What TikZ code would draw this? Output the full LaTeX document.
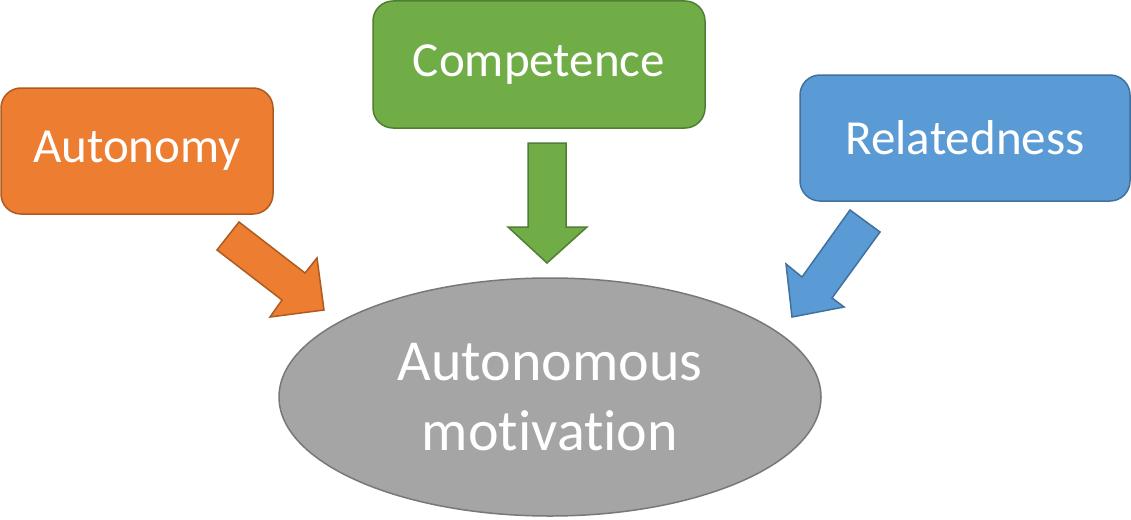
\documentclass[tikz,border=0pt]{standalone}
\usepackage{fontspec}
\setmainfont{Carlito}[Ligatures=NoCommon]
\usetikzlibrary{shapes.geometric}
\definecolor{oFill}{HTML}{ED7D31}\definecolor{oLine}{HTML}{AE5A21}
\definecolor{gFill}{HTML}{70AD47}\definecolor{gLine}{HTML}{507E32}
\definecolor{bFill}{HTML}{5B9BD5}\definecolor{bLine}{HTML}{41719C}
\definecolor{kFill}{HTML}{A5A5A5}\definecolor{kLine}{HTML}{787878}
\begin{document}
\begin{tikzpicture}[x=1pt,y=-1pt,
  box/.style={rectangle,rounded corners=20pt,line width=1.5pt,text=white,inner sep=0pt,
    font=\fontsize{49}{59}\selectfont},
  blockarrow/.style={line width=1.5pt,line join=miter}]
\useasboundingbox (0,0) rectangle (1131,519);
\node[box,fill=oFill,draw=oLine,minimum width=272pt,minimum height=126pt] (aut) at (137,151) {Autonomy};
\node[box,fill=gFill,draw=gLine,minimum width=332pt,minimum height=127pt] (comp) at (539,64.5) {Competence};
\node[box,fill=bFill,draw=bLine,minimum width=330pt,minimum height=126pt] (rel) at (965,138) {Relatedness};
\node[ellipse,fill=kFill,draw=kLine,line width=1.5pt,minimum width=542pt,minimum height=238pt,inner sep=0pt,
  text=white,align=center,font=\fontsize{58}{70}\selectfont] (mot) at (550,397) {Autonomous\\motivation};
% block arrows
\draw[blockarrow,fill=oFill,draw=oLine] (239,222) -- (305,273) -- (317,258) -- (324,310) -- (270,317) -- (282,300) -- (217,250) -- cycle;
\draw[blockarrow,fill=gFill,draw=gLine] (528,143) -- (566,143) -- (566,227) -- (587,227) -- (547,263) -- (508,227) -- (528,227) -- cycle;
\draw[blockarrow,fill=bFill,draw=bLine] (850,210) -- (880,232) -- (832,298) -- (844,307) -- (792,317) -- (786,264) -- (802,277) -- cycle;
\end{tikzpicture}
\end{document}
